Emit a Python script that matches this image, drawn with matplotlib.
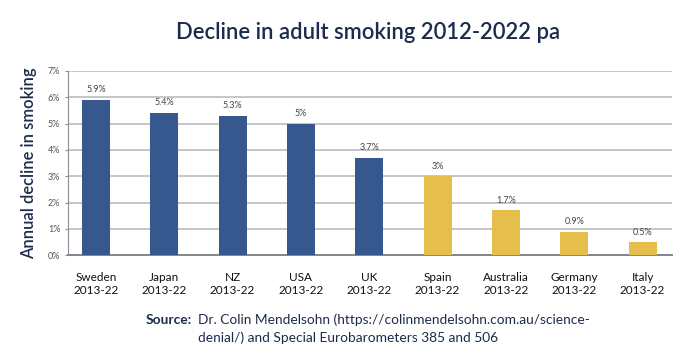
import numpy as np
import matplotlib.pyplot as plt

plt.rcParams['font.family'] = ['Lato', 'DejaVu Sans']

countries = ['Sweden', 'Japan', 'NZ', 'USA', 'UK', 'Spain', 'Australia', 'Germany', 'Italy']
period = '2013-22'
decline = [5.9, 5.4, 5.3, 5.0, 3.7, 3.0, 1.7, 0.9, 0.5]
value_labels = ['5.9%', '5.4%', '5.3%', '5%', '3.7%', '3%', '1.7%', '0.9%', '0.5%']
is_eu = [False, False, False, False, False, True, True, True, True]

BLUE = '#36588f'
GOLD = '#e5be4e'
NAVY = '#1d2c4c'

fig = plt.figure(figsize=(7, 3.56), dpi=100)
ax = fig.add_axes([0.097, 0.283, 0.863, 0.518])

x = np.arange(len(countries))
colors = [GOLD if e else BLUE for e in is_eu]
bars = ax.bar(x, decline, width=0.41, color=colors, zorder=3)

for b, lab in zip(bars, value_labels):
    ax.annotate(lab, (b.get_x() + b.get_width() / 2, b.get_height()),
                xytext=(0, 4), textcoords='offset points',
                ha='center', va='bottom', fontsize=6.5, color='#444444')

ax.set_xlim(-0.41, 8.43)
ax.set_ylim(0, 7)
ax.set_yticks(range(8))
ax.set_yticklabels([f'{i}%' for i in range(8)], fontsize=6.5, color='#555555')
ax.set_xticks(x)
ax.set_xticklabels([f'{c}\n{period}' for c in countries], fontsize=8.5, color='#111111',
                   linespacing=1.25)
ax.tick_params(axis='x', length=0, pad=12)
ax.tick_params(axis='y', length=2.5, width=0.8, color='#8a8f96', pad=3)

ax.grid(axis='y', color='#b9bdc2', linewidth=1.2, zorder=0)
for s in ['top', 'right']:
    ax.spines[s].set_visible(False)
ax.spines['left'].set_color('#8a8f96')
ax.spines['bottom'].set_color('#7f868f')
ax.spines['bottom'].set_linewidth(1.4)

ax.set_ylabel('Annual decline in smoking', fontsize=11.9, color=NAVY,
              fontweight='semibold', labelpad=8)

fig.text(0.526, 0.91, 'Decline in adult smoking 2012-2022 pa', ha='center', va='center',
         fontsize=15.8, color=NAVY, fontweight='semibold')

fig.text(0.274, 0.101, 'Source:', ha='right', va='center', fontsize=9.9,
         color=NAVY, fontweight='bold')
fig.text(0.283, 0.101, 'Dr. Colin Mendelsohn (https://colinmendelsohn.com.au/science-',
         ha='left', va='center', fontsize=9.9, color=NAVY)
fig.text(0.283, 0.051, 'denial/) and Special Eurobarometers 385 and 506',
         ha='left', va='center', fontsize=9.9, color=NAVY)

fig.savefig('out.png', dpi=100, facecolor='white')
